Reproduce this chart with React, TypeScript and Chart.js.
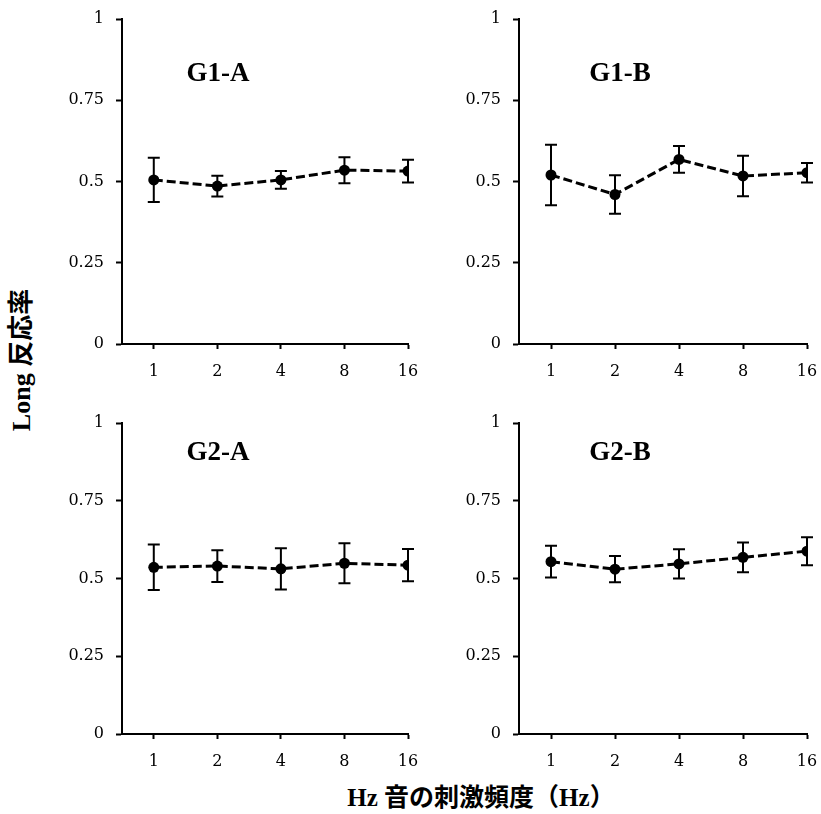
import React, { useEffect, useRef } from "react";
import { Chart, registerables } from "chart.js";

Chart.register(...registerables);

const xLabels = ["1", "2", "4", "8", "16"];
const yTickValues = [0, 0.25, 0.5, 0.75, 1];
const yTickLabels = ["0", "0.25", "0.5", "0.75", "1"];

const g1aMeans = [0.505, 0.486, 0.505, 0.535, 0.532];
const g1aErrors = [0.068, 0.032, 0.027, 0.04, 0.035];
const g1bMeans = [0.52, 0.46, 0.568, 0.517, 0.527];
const g1bErrors = [0.093, 0.059, 0.041, 0.062, 0.03];
const g2aMeans = [0.536, 0.54, 0.531, 0.549, 0.543];
const g2aErrors = [0.073, 0.051, 0.066, 0.064, 0.052];
const g2bMeans = [0.554, 0.53, 0.547, 0.568, 0.588];
const g2bErrors = [0.051, 0.042, 0.047, 0.048, 0.045];

const panelTitles = ["G1-A", "G1-B", "G2-A", "G2-B"];
const yAxisTitle = "Long 反応率";
const xAxisTitle = "Hz 音の刺激頻度（Hz）";

const YW = 80;
const PT = 26;
const PR = 28;
const XH = 45;

type Area = { l: number; t: number; r: number; b: number };

const errorBarPlugin = {
  id: "errorBars",
  beforeDatasetsDraw(chart: any) {
    const errs: number[] = chart.options.plugins.errorBars?.errors || [];
    const ds = chart.data.datasets[0];
    const meta = chart.getDatasetMeta(0);
    const y = chart.scales.y;
    const ctx = chart.ctx;
    ctx.save();
    ctx.strokeStyle = "#000";
    ctx.lineWidth = 2;
    ctx.setLineDash([]);
    meta.data.forEach((pt: any, i: number) => {
      const v = ds.data[i].y;
      const e = errs[i] || 0;
      const yTop = y.getPixelForValue(v + e);
      const yBot = y.getPixelForValue(v - e);
      const x = pt.x;
      const cap = 6;
      ctx.beginPath();
      ctx.moveTo(x, yTop);
      ctx.lineTo(x, yBot);
      ctx.moveTo(x - cap, yTop);
      ctx.lineTo(x + cap, yTop);
      ctx.moveTo(x - cap, yBot);
      ctx.lineTo(x + cap, yBot);
      ctx.stroke();
    });
    ctx.restore();
  },
};

function Panel({ means, errors, area }: { means: number[]; errors: number[]; area: Area }) {
  const ref = useRef<HTMLCanvasElement | null>(null);
  const left = area.l - YW;
  const top = area.t - PT;
  const width = area.r - area.l + YW + PR;
  const height = area.b - area.t + PT + XH;

  useEffect(() => {
    if (!ref.current) return;
    const tickFont = { family: "'DejaVu Serif', serif", size: 16 };
    const chart = new Chart(ref.current, {
      type: "line",
      data: {
        datasets: [
          {
            data: means.map((m, i) => ({ x: i, y: m })),
            borderColor: "#000",
            borderWidth: 3,
            borderDash: [9, 4],
            pointRadius: 5.5,
            pointBackgroundColor: "#000",
            pointBorderWidth: 0,
            tension: 0,
            fill: false,
          },
        ],
      },
      options: {
        animation: false,
        responsive: false,
        devicePixelRatio: 1,
        layout: { padding: { top: PT, right: PR, bottom: 0, left: 0 } },
        plugins: {
          legend: { display: false },
          tooltip: { enabled: false },
          errorBars: { errors },
        } as any,
        scales: {
          x: {
            type: "linear",
            min: -0.5,
            max: xLabels.length - 1,
            afterBuildTicks: (s: any) => {
              s.ticks = xLabels.map((_, i) => ({ value: i }));
            },
            afterFit: (s: any) => {
              s.height = XH;
            },
            ticks: {
              callback: (_v: any, i: number) => xLabels[i],
              color: "#000",
              font: tickFont,
              padding: 13,
              maxRotation: 0,
              autoSkip: false,
            },
            grid: {
              drawOnChartArea: false,
              drawTicks: true,
              tickLength: 5,
              tickColor: "#000",
              tickWidth: 2,
            },
            border: { display: true, color: "#000", width: 2 },
          },
          y: {
            min: 0,
            max: 1,
            afterBuildTicks: (s: any) => {
              s.ticks = yTickValues.map((v) => ({ value: v }));
            },
            afterFit: (s: any) => {
              s.width = YW;
            },
            ticks: {
              callback: (_v: any, i: number) => yTickLabels[i],
              color: "#000",
              font: tickFont,
              padding: 12,
              autoSkip: false,
            },
            grid: {
              drawOnChartArea: false,
              drawTicks: true,
              tickLength: 6,
              tickColor: "#000",
              tickWidth: 2,
            },
            border: { display: true, color: "#000", width: 2 },
          },
        },
      } as any,
      plugins: [errorBarPlugin],
    });
    return () => chart.destroy();
  }, []);

  return (
    <canvas
      ref={ref}
      width={width}
      height={height}
      style={{ position: "absolute", left, top, width, height }}
    />
  );
}

const titleStyle: React.CSSProperties = {
  position: "absolute",
  transform: "translate(-50%, -50%)",
  fontFamily: "'Liberation Serif', 'Noto Sans CJK JP', serif",
  fontWeight: "bold",
  fontSize: 27,
  color: "#000",
  whiteSpace: "nowrap",
  lineHeight: 1,
};

export default function App() {
  const areas: Area[] = [
    { l: 122, t: 19, r: 408, b: 344 },
    { l: 519, t: 19, r: 807, b: 344 },
    { l: 122, t: 423, r: 408, b: 734 },
    { l: 519, t: 423, r: 807, b: 734 },
  ];
  const titlePos = [
    { x: 218, y: 72 },
    { x: 620, y: 72 },
    { x: 218, y: 451 },
    { x: 620, y: 451 },
  ];
  const series = [
    [g1aMeans, g1aErrors],
    [g1bMeans, g1bErrors],
    [g2aMeans, g2aErrors],
    [g2bMeans, g2bErrors],
  ];
  return (
    <div
      style={{
        position: "absolute",
        left: 0,
        top: 0,
        width: 821,
        height: 814,
        overflow: "hidden",
        background: "#fff",
      }}
    >
      {series.map(([m, e], i) => (
        <Panel key={i} means={m} errors={e} area={areas[i]} />
      ))}
      {panelTitles.map((t, i) => (
        <div key={t} style={{ ...titleStyle, left: titlePos[i].x, top: titlePos[i].y }}>
          {t}
        </div>
      ))}
      <div
        style={{
          ...titleStyle,
          fontSize: 26,
          left: 22,
          top: 360,
          transform: "translate(-50%, -50%) rotate(-90deg)",
        }}
      >
        {yAxisTitle}
      </div>
      <div style={{ ...titleStyle, fontSize: 25, left: 481, top: 797 }}>{xAxisTitle}</div>
    </div>
  );
}
